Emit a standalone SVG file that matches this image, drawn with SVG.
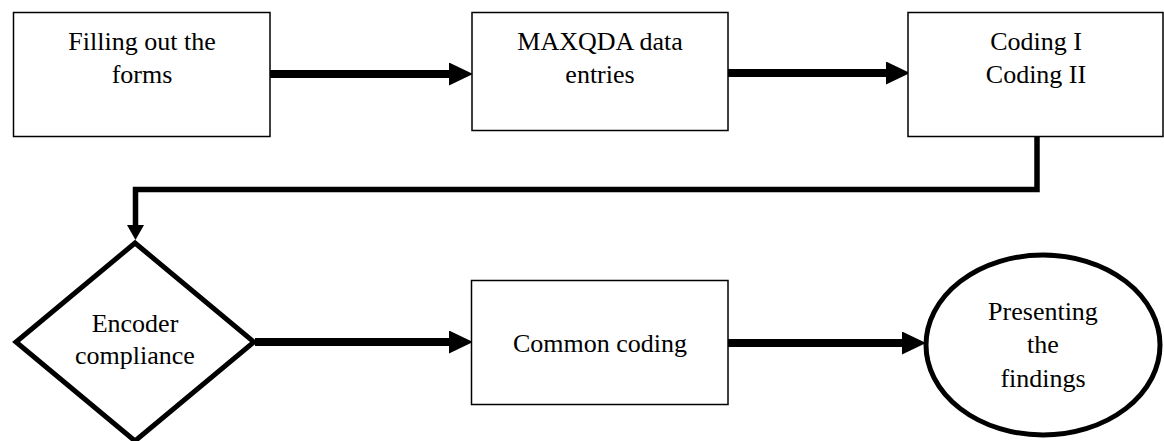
<svg xmlns="http://www.w3.org/2000/svg" width="1164" height="441" viewBox="0 0 1164 441">
  <style>
    .box { fill: #ffffff; stroke: #000000; stroke-width: 1.5; }
    .bold { fill: #ffffff; stroke: #000000; stroke-width: 5; }
    .lbl { font-family: "Liberation Serif", "Times New Roman", serif; font-size: 26px; fill: #000000; text-anchor: middle; }
    .conn { fill: none; stroke: #000000; stroke-width: 8; }
    .conn2 { fill: none; stroke: #000000; stroke-width: 5.5; }
  </style>
  <defs>
    <marker id="ah" viewBox="0 0 24 23" markerWidth="24" markerHeight="23" refX="11" refY="11.5" markerUnits="userSpaceOnUse" orient="auto">
      <polygon points="0,0 24,11.5 0,23" fill="#000000"/>
    </marker>
    <marker id="ahs" viewBox="0 0 15 17" markerWidth="15" markerHeight="17" refX="7" refY="8.5" markerUnits="userSpaceOnUse" orient="auto">
      <polygon points="0,0 15,8.5 0,17" fill="#000000"/>
    </marker>
  </defs>
  <rect width="1164" height="441" fill="#ffffff"/>

  <g id="connectors">
    <line class="conn" x1="270" y1="74" x2="460" y2="74" marker-end="url(#ah)"/>
    <line class="conn" x1="728" y1="73" x2="897" y2="73" marker-end="url(#ah)"/>
    <polyline class="conn2" points="1037,136 1037,189.5 135.5,189.5 135.5,232" marker-end="url(#ahs)"/>
    <line class="conn" x1="255" y1="342" x2="460" y2="342" marker-end="url(#ah)"/>
    <line class="conn" x1="728" y1="343" x2="913" y2="343" marker-end="url(#ah)"/>
  </g>

  <g id="node-filling">
    <rect class="box" x="13.5" y="12.5" width="256.5" height="124"/>
    <text class="lbl" x="142" y="50">Filling out the</text>
    <text class="lbl" x="142" y="83">forms</text>
  </g>

  <g id="node-maxqda">
    <rect class="box" x="472" y="12.5" width="256" height="118"/>
    <text class="lbl" x="600" y="50">MAXQDA data</text>
    <text class="lbl" x="600" y="83">entries</text>
  </g>

  <g id="node-coding">
    <rect class="box" x="908" y="12.5" width="255" height="124"/>
    <text class="lbl" x="1036" y="50">Coding I</text>
    <text class="lbl" x="1036" y="83">Coding II</text>
  </g>

  <g id="node-encoder">
    <polygon class="bold" points="135,243 254,342 135,441 16,342"/>
    <text class="lbl" x="135" y="332">Encoder</text>
    <text class="lbl" x="135" y="364">compliance</text>
  </g>

  <g id="node-common">
    <rect class="box" x="471.5" y="280.5" width="256.5" height="124"/>
    <text class="lbl" x="600" y="352">Common coding</text>
  </g>

  <g id="node-presenting">
    <ellipse class="bold" cx="1043" cy="345" rx="117" ry="90" stroke-width="4.5"/>
    <text class="lbl" x="1043" y="320">Presenting</text>
    <text class="lbl" x="1043" y="353">the</text>
    <text class="lbl" x="1043" y="387">findings</text>
  </g>
</svg>
